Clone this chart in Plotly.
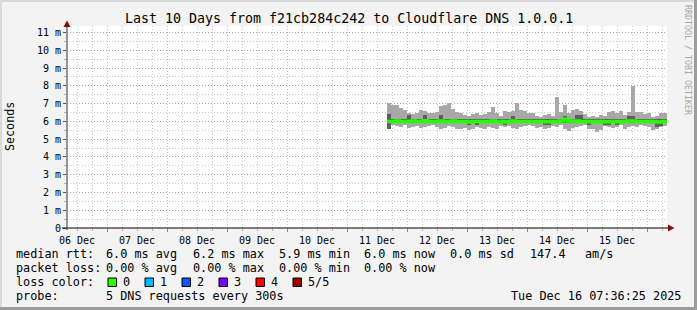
import plotly.graph_objects as go
from datetime import datetime, timedelta

# ---------------- data ----------------
title_text = "Last 10 Days from f21cb284c242 to Cloudflare DNS 1.0.0.1"
range_start = datetime(2025, 12, 6, 8, 0)
range_end = datetime(2025, 12, 16, 8, 0)
data_start = datetime(2025, 12, 11, 16, 6)
step_hours = 1.6  # consolidation step of the smoke columns

smoke_max = [7.05, 6.95, 6.95, 6.75, 6.65, 6.45, 6.40, 6.45, 6.65, 6.60,
             6.50, 6.45, 6.55, 6.85, 6.90, 7.05, 6.70, 6.55, 6.45, 6.35,
             6.30, 6.40, 6.45, 6.35, 6.40, 6.55, 6.80, 6.45, 6.30, 6.60,
             6.55, 6.60, 7.05, 6.65, 6.60, 6.45, 6.50, 6.30, 6.25, 6.35,
             6.40, 6.30, 7.40, 6.55, 6.90, 6.50, 6.65, 6.70, 6.60, 6.40,
             6.25, 6.30, 6.25, 6.35, 6.30, 6.55, 6.60, 6.50, 6.60, 6.35,
             6.55, 8.00, 6.55, 6.55, 6.40, 6.50, 6.25, 6.30, 6.50, 6.45]
smoke_min = [5.55, 5.80, 5.75, 5.70, 5.80, 5.65, 5.70, 5.75, 5.65, 5.70,
             5.75, 5.80, 5.70, 5.60, 5.65, 5.75, 5.70, 5.60, 5.55, 5.65,
             5.50, 5.60, 5.70, 5.65, 5.60, 5.70, 5.65, 5.55, 5.75, 5.70,
             5.75, 5.65, 5.60, 5.70, 5.75, 5.80, 5.75, 5.65, 5.70, 5.55,
             5.65, 5.75, 5.70, 5.80, 5.60, 5.45, 5.65, 5.70, 5.75, 5.80,
             5.60, 5.55, 5.40, 5.50, 5.75, 5.70, 5.65, 5.70, 5.80, 5.55,
             5.70, 5.75, 5.70, 5.80, 5.75, 5.70, 5.50, 5.60, 5.70, 5.75]
inner_hi = [6.43, 6.12, 6.12, 6.12, 6.12, 6.35, 6.12, 6.12, 6.12, 6.35,
            6.12, 6.12, 6.12, 6.35, 6.12, 6.12, 6.12, 6.12, 6.12, 6.12,
            6.12, 6.12, 6.12, 6.12, 6.12, 6.12, 6.12, 6.12, 6.12, 6.12,
            6.12, 6.30, 6.12, 6.12, 6.12, 6.12, 6.12, 6.12, 6.12, 6.12,
            6.12, 6.12, 6.12, 6.12, 6.32, 6.12, 6.12, 6.35, 6.35, 6.12,
            6.12, 6.12, 6.12, 6.12, 6.12, 6.12, 6.12, 6.12, 6.12, 6.12,
            6.30, 6.30, 6.12, 6.12, 6.12, 6.12, 6.12, 6.12, 6.12, 6.12]
inner_lo = [5.58, 5.89, 5.89, 5.89, 5.89, 5.89, 5.89, 5.89, 5.89, 5.89,
            5.89, 5.89, 5.89, 5.89, 5.89, 5.89, 5.89, 5.89, 5.89, 5.89,
            5.80, 5.89, 5.80, 5.89, 5.89, 5.89, 5.89, 5.89, 5.89, 5.80,
            5.89, 5.89, 5.89, 5.89, 5.89, 5.89, 5.89, 5.89, 5.89, 5.80,
            5.82, 5.89, 5.89, 5.89, 5.89, 5.89, 5.89, 5.89, 5.89, 5.89,
            5.80, 5.89, 5.89, 5.89, 5.80, 5.80, 5.89, 5.82, 5.89, 5.89,
            5.89, 5.89, 5.89, 5.89, 5.89, 5.89, 5.89, 5.70, 5.72, 5.89]
median_rtt = [6.00, 6.00, 6.02, 6.00, 5.98, 6.00, 6.02, 6.00, 6.00, 6.03,
              6.00, 5.98, 6.00, 6.02, 6.00, 6.00, 6.02, 6.00, 5.98, 6.00,
              5.97, 6.00, 6.00, 6.00, 5.98, 6.00, 6.02, 6.00, 6.00, 5.97,
              6.00, 6.02, 6.00, 6.00, 6.00, 5.98, 6.00, 6.00, 6.00, 5.98,
              5.98, 6.00, 6.00, 6.02, 6.12, 6.02, 6.00, 6.02, 6.00, 6.00,
              5.98, 6.00, 5.98, 6.00, 5.98, 5.98, 6.00, 5.98, 6.00, 6.00,
              6.02, 6.02, 6.00, 6.00, 6.00, 6.00, 6.00, 5.97, 5.97, 6.00]

y_tick_vals = [0, 1, 2, 3, 4, 5, 6, 7, 8, 9, 10, 11]
y_tick_text = ["0", "1 m", "2 m", "3 m", "4 m", "5 m", "6 m", "7 m", "8 m", "9 m", "10 m", "11 m"]

legend_rtt = [("median rtt:", 16), ("6.0 ms avg", 106), ("6.2 ms max", 192.5), ("5.9 ms min", 278.5),
              ("6.0 ms now", 364), ("0.0 ms sd", 450), ("147.4", 529.5), ("am/s", 585)]
legend_loss = [("packet loss:", 16), ("0.00 % avg", 106), ("0.00 % max", 192.5),
               ("0.00 % min", 278.5), ("0.00 % now", 364)]
loss_labels = ["0", "1", "2", "3", "4", "5/5"]
loss_colors = ["#26ff00", "#00b8ff", "#0059ff", "#7e00ff", "#ff0000", "#a10000"]
loss_box_x = [108, 145, 182, 219, 256, 293]
probe_text = "5 DNS requests every 300s"
stamp_text = "Tue Dec 16 07:36:25 2025"

# ---------------- derived ----------------
n = len(smoke_max)
step = timedelta(hours=step_hours)
col_start = [data_start + i * step for i in range(n)]
col_mid = [t + step / 2 for t in col_start]
width_ms = step_hours * 3600 * 1000

W, H = 697, 310
L, R, T, B = 67, 30, 26, 82
PW, PH = W - L - R, H - T - B


def px(x):
    return (x - L) / PW


def py(y):
    return (H - B - y) / PH


MONO = "DejaVu Sans Mono"

fig = go.Figure()
fig.add_trace(go.Bar(x=col_mid, y=[a - b for a, b in zip(smoke_max, smoke_min)], base=smoke_min,
                     width=width_ms, marker=dict(color="#a8a8a8", line=dict(width=0)), hoverinfo="skip"))
fig.add_trace(go.Bar(x=col_mid, y=[a - b for a, b in zip(inner_hi, inner_lo)], base=inner_lo,
                     width=width_ms, marker=dict(color="#5e5e5e", line=dict(width=0)), hoverinfo="skip"))
fig.add_trace(go.Scatter(x=col_start + [col_start[-1] + step], y=median_rtt + [median_rtt[-1]],
                         mode="lines", line=dict(color=loss_colors[0], width=3.5, shape="hv"),
                         hoverinfo="skip"))

shapes = []
# frame bevel
shapes.append(dict(type="rect", xref="paper", yref="paper", x0=px(0), x1=px(W), y0=py(0), y1=py(2),
                   fillcolor="#d9d9d9", line=dict(width=0), layer="below"))
shapes.append(dict(type="rect", xref="paper", yref="paper", x0=px(0), x1=px(2), y0=py(0), y1=py(H),
                   fillcolor="#d9d9d9", line=dict(width=0), layer="below"))
shapes.append(dict(type="rect", xref="paper", yref="paper", x0=px(W - 3), x1=px(W), y0=py(0), y1=py(H),
                   fillcolor="#9c9c9c", line=dict(width=0), layer="below"))
shapes.append(dict(type="rect", xref="paper", yref="paper", x0=px(0), x1=px(W), y0=py(H - 3), y1=py(H),
                   fillcolor="#9c9c9c", line=dict(width=0), layer="below"))
# axes
shapes.append(dict(type="line", xref="paper", yref="paper", x0=px(62), x1=px(670), y0=0, y1=0,
                   line=dict(color="#000000", width=1)))
shapes.append(dict(type="line", xref="paper", yref="paper", x0=0, x1=0, y0=py(230), y1=py(25),
                   line=dict(color="#333333", width=1)))
# arrows
ax, ay = 0, py(20.5)
shapes.append(dict(type="path", xref="paper", yref="paper",
                   path=f"M {px(67)} {py(20.5)} L {px(63.5)} {py(27)} L {px(70.5)} {py(27)} Z",
                   fillcolor="#7f1010", line=dict(width=0)))
shapes.append(dict(type="path", xref="paper", yref="paper",
                   path=f"M {px(674.5)} {py(228)} L {px(668)} {py(224.5)} L {px(668)} {py(231.5)} Z",
                   fillcolor="#7f1010", line=dict(width=0)))
# loss colour boxes
for bx, c in zip(loss_box_x, loss_colors):
    shapes.append(dict(type="rect", xref="paper", yref="paper", x0=px(bx), x1=px(bx + 8.5),
                       y0=py(286.5), y1=py(278), fillcolor=c, line=dict(color="#000000", width=1)))

ann = []


def text(s, x, y, size=11.8, xanchor="left", color="#000000", angle=0, font=MONO):
    ann.append(dict(text=s, x=px(x), y=py(y), xref="paper", yref="paper", showarrow=False,
                    xanchor=xanchor, yanchor="middle", borderpad=0, borderwidth=0, textangle=angle,
                    font=dict(family=font, size=size, color=color)))


text(title_text, 348.5, 19, size=13.3, xanchor="center")
text("Seconds", 10, 127, size=11.7, xanchor="center", angle=-90)
text("RRDTOOL / TOBI OETIKER", 688, 60, size=8.3, xanchor="center", angle=90, color="#a8a8a8")
for s, x in legend_rtt:
    text(s, x, 254.3)
for s, x in legend_loss:
    text(s, x, 268.3)
text("loss color:", 16, 282.3)
for lab, bx in zip(loss_labels, loss_box_x):
    text(lab, bx + 14.5, 282.3)
text("probe:", 16, 296)
text(probe_text, 106, 296)
text(stamp_text, 681, 296, xanchor="right")

fig.update_layout(
    width=W, height=H, margin=dict(l=L, r=R, t=T, b=B, pad=0),
    paper_bgcolor="#f3f3f3", plot_bgcolor="#ffffff",
    showlegend=False, barmode="overlay", bargap=0, hovermode=False,
    shapes=shapes, annotations=ann,
    xaxis=dict(type="date", range=[range_start, range_end], tick0="2025-12-06", dtick=86400000,
               tickformat="%d %b", ticklabelmode="period", showline=False, zeroline=False,
               showgrid=True, gridcolor="rgba(240,100,100,0.55)", griddash="1px,2px", gridwidth=1,
               ticks="outside", ticklen=3, tickcolor="rgba(220,60,60,0.8)",
               tickfont=dict(family=MONO, size=10, color="#000000"),
               minor=dict(dtick=21600000, tick0="2025-12-06", showgrid=True,
                          gridcolor="rgba(150,150,150,0.5)", griddash="1px,2px", gridwidth=1,
                          ticks="outside", ticklen=2, tickcolor="rgba(150,150,150,0.7)"),
               fixedrange=True),
    yaxis=dict(range=[0, 11.37], tickvals=y_tick_vals, ticktext=y_tick_text, showline=False,
               zeroline=False, showgrid=True, gridcolor="rgba(240,100,100,0.55)", griddash="1px,2px",
               ticks="outside", ticklen=3, tickcolor="#555555",
               tickfont=dict(family=MONO, size=10, color="#000000"),
               minor=dict(dtick=0.5, showgrid=True, gridcolor="rgba(150,150,150,0.5)",
                          griddash="1px,2px", ticks="outside", ticklen=2,
                          tickcolor="rgba(150,150,150,0.7)"),
               fixedrange=True),
)

fig.write_html("out.html")
